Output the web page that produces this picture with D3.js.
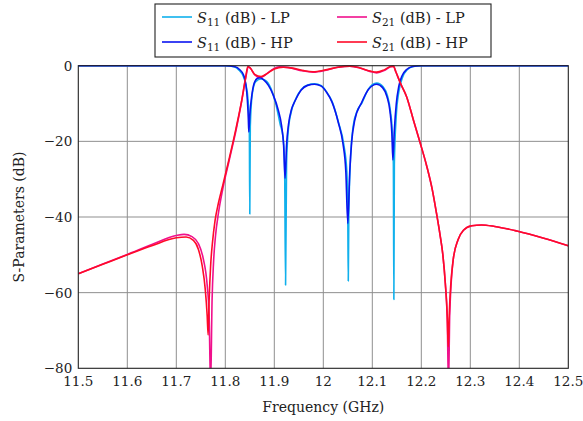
<!DOCTYPE html>
<html>
<head>
<meta charset="utf-8">
<script src="https://cdn.jsdelivr.net/npm/d3@7"></script>
<style>
  body { margin: 0; background: #fff; }
</style>
</head>
<body>
<div id="chart"></div>
<script>
// tick values
var xTicks = [11.5, 11.6, 11.7, 11.8, 11.9, 12, 12.1, 12.2, 12.3, 12.4, 12.5];
var yTicks = [0, -20, -40, -60, -80];

// S11 - LP (frequency GHz, dB)
var s11lp = [
  [11.5, 0], [11.80, 0], [11.818, -0.3], [11.828, -1.2], [11.836, -2.6], [11.842, -5],
  [11.846, -8.5], [11.849, -16], [11.850, -39.2], [11.851, -16], [11.855, -7.5],
  [11.862, -4.2], [11.873, -3.5], [11.882, -3.9], [11.893, -6], [11.903, -10],
  [11.912, -15.5], [11.918, -19], [11.921, -26], [11.923, -58], [11.925, -26],
  [11.928, -18], [11.934, -12.5], [11.942, -9.3], [11.955, -6.3], [11.968, -5.1],
  [11.982, -4.8], [11.996, -5.3], [12.006, -6.8], [12.018, -9.5], [12.031, -15],
  [12.042, -21], [12.048, -28], [12.050, -40], [12.051, -56.9], [12.052, -40],
  [12.055, -26], [12.061, -16], [12.069, -12], [12.079, -9.8], [12.092, -6.2],
  [12.109, -4.6], [12.122, -5.6], [12.131, -8], [12.137, -12], [12.141, -18],
  [12.143, -26], [12.144, -61.8], [12.145, -26], [12.149, -13], [12.154, -7],
  [12.162, -3], [12.172, -1], [12.184, -0.2], [12.2, 0], [12.5, 0]
];

// S21 - LP
var s21lp = [
  [11.5, -55], [11.55, -52.4], [11.6, -49.9], [11.65, -47.3], [11.7, -44.9],
  [11.716, -44.6], [11.732, -45.2], [11.745, -47], [11.755, -51], [11.763, -58],
  [11.767, -66], [11.770, -85], [11.773, -62], [11.776, -52], [11.780, -45],
  [11.786, -39], [11.795, -32.5], [11.808, -25], [11.822, -17], [11.834, -9],
  [11.842, -3], [11.847, -0.3], [11.852, -0.8], [11.86, -2.4], [11.871, -3.2],
  [11.882, -2.4], [11.895, -1.1], [11.91, -0.3], [11.93, -0.5], [11.955, -1.3],
  [11.979, -1.7], [12.005, -1.2], [12.03, -0.4], [12.054, -0.1], [12.075, -0.6],
  [12.095, -1.5], [12.109, -1.9], [12.124, -1.3], [12.137, -0.3], [12.143, -0.1],
  [12.148, -1.6], [12.158, -4.8], [12.17, -8.2], [12.184, -14.4], [12.197, -20.1],
  [12.211, -26.5], [12.222, -32.5], [12.231, -39], [12.238, -44.5], [12.244, -50],
  [12.249, -57.5], [12.253, -67], [12.2555, -85], [12.258, -66], [12.265, -51.4],
  [12.275, -46], [12.286, -43.5], [12.303, -42.3], [12.323, -42.1], [12.35, -42.5],
  [12.395, -43.7], [12.45, -45.6], [12.5, -47.6]
];

// S11 - HP
var s11hp = [
  [11.5, 0], [11.80, 0], [11.82, -0.3], [11.829, -1], [11.837, -2.4], [11.842, -5],
  [11.845, -9], [11.847, -14], [11.848, -17.5], [11.850, -13], [11.854, -8],
  [11.859, -4.6], [11.865, -3.4], [11.871, -3.2], [11.879, -3.8], [11.888, -5.2],
  [11.898, -7.8], [11.908, -11.7], [11.915, -16], [11.919, -21], [11.922, -29.8],
  [11.925, -21], [11.929, -15.5], [11.935, -11.6], [11.942, -9.4], [11.955, -6.4],
  [11.968, -5.2], [11.982, -4.9], [11.996, -5.4], [12.006, -6.9], [12.018, -9.7],
  [12.031, -15.2], [12.040, -20.5], [12.046, -28], [12.050, -41.7], [12.054, -28],
  [12.058, -20], [12.064, -14.5], [12.078, -9.8], [12.092, -6.3], [12.109, -4.9],
  [12.121, -5.8], [12.13, -8.2], [12.136, -12], [12.140, -18], [12.142, -24.9],
  [12.145, -17], [12.149, -10], [12.154, -5.5], [12.161, -2.6], [12.17, -1],
  [12.182, -0.2], [12.2, 0], [12.5, 0]
];

// S21 - HP
var s21hp = [
  [11.5, -55], [11.55, -52.5], [11.6, -50], [11.65, -47.6], [11.7, -45.5],
  [11.72, -45.3], [11.735, -46.2], [11.745, -48.5], [11.753, -53], [11.759, -59],
  [11.763, -66], [11.765, -71.2], [11.767, -62], [11.770, -53], [11.774, -46.5],
  [11.779, -41], [11.786, -36.3], [11.795, -31.5], [11.808, -24.5], [11.822, -16.5],
  [11.833, -9.5], [11.841, -3.5], [11.846, -0.2], [11.851, -0.6], [11.86, -2.3],
  [11.873, -2.9], [11.885, -2.1], [11.9, -0.9], [11.918, -0.4], [11.94, -0.7],
  [11.96, -1.3], [11.979, -1.6], [12.005, -1.1], [12.03, -0.4], [12.054, -0.1],
  [12.075, -0.6], [12.095, -1.4], [12.109, -1.7], [12.124, -1.1], [12.137, -0.2],
  [12.143, -0.1], [12.148, -1.6], [12.158, -4.8], [12.17, -8.2], [12.184, -14.4],
  [12.197, -20.1], [12.211, -26.5], [12.222, -32.5], [12.231, -39], [12.238, -44.5],
  [12.244, -50], [12.249, -57.5], [12.253, -66.5], [12.255, -74.3], [12.257, -66],
  [12.265, -51.4], [12.275, -46], [12.286, -43.5], [12.303, -42.3], [12.323, -42.1],
  [12.35, -42.5], [12.395, -43.7], [12.45, -45.6], [12.5, -47.6]
];

var series = [
  { name: "LP", sub: "11", data: s11lp, color: "#10b0ec" },
  { name: "LP", sub: "21", data: s21lp, color: "#f0108c" },
  { name: "HP", sub: "11", data: s11hp, color: "#0a14f0" },
  { name: "HP", sub: "21", data: s21hp, color: "#ff0a28" }
];

function drawChart() {
  var W = 583, H = 421;
  var pl = 78.3, pr = 568.3, pt = 65.7, pb = 368.3;
  var font = "'DejaVu Serif', serif";

  var svg = d3.select("#chart").append("svg")
    .attr("width", W).attr("height", H)
    .attr("font-family", font);

  var x = d3.scaleLinear().domain([11.5, 12.5]).range([pl, pr]);
  var y = d3.scaleLinear().domain([-80, 0]).range([pb, pt]);

  // grid
  svg.append("g").selectAll("line").data(xTicks.slice(1, -1)).enter().append("line")
    .attr("x1", d => x(d)).attr("x2", d => x(d))
    .attr("y1", pt).attr("y2", pb)
    .attr("stroke", "#8f8f8f").attr("stroke-width", 1);
  svg.append("g").selectAll("line").data(yTicks.slice(1, -1)).enter().append("line")
    .attr("x1", pl).attr("x2", pr)
    .attr("y1", d => y(d)).attr("y2", d => y(d))
    .attr("stroke", "#8f8f8f").attr("stroke-width", 1);

  // clip
  svg.append("clipPath").attr("id", "clip").append("rect")
    .attr("x", pl).attr("y", pt - 2).attr("width", pr - pl).attr("height", pb - pt + 2);

  var line = d3.line()
    .x(d => x(d[0])).y(d => y(d[1]))
    .curve(d3.curveMonotoneX);

  svg.append("g").attr("clip-path", "url(#clip)")
    .selectAll("path").data(series).enter().append("path")
    .attr("d", d => line(d.data))
    .attr("fill", "none")
    .attr("stroke", d => d.color)
    .attr("stroke-width", 1.6)
    .attr("stroke-linejoin", "round");

  // axes frame
  svg.append("rect").attr("x", pl).attr("y", pt)
    .attr("width", pr - pl).attr("height", pb - pt)
    .attr("fill", "none").attr("stroke", "#222").attr("stroke-width", 1.1);

  // tick labels
  var minus = v => (v < 0 ? "\u2212" + Math.abs(v) : String(v));
  svg.append("g").selectAll("text").data(xTicks).enter().append("text")
    .attr("x", d => x(d)).attr("y", pb + 18)
    .attr("text-anchor", "middle").attr("font-size", 13.5).attr("fill", "#222")
    .text(d => d);
  svg.append("g").selectAll("text").data(yTicks).enter().append("text")
    .attr("x", pl - 6).attr("y", d => y(d) + 5)
    .attr("text-anchor", "end").attr("font-size", 13.5).attr("fill", "#222")
    .text(d => minus(d));

  // axis labels
  svg.append("text").attr("x", (pl + pr) / 2).attr("y", 412)
    .attr("text-anchor", "middle").attr("font-size", 14).attr("fill", "#222")
    .text("Frequency (GHz)");
  svg.append("text")
    .attr("transform", "translate(24," + ((pt + pb) / 2) + ") rotate(-90)")
    .attr("text-anchor", "middle").attr("font-size", 14).attr("fill", "#222")
    .text("S-Parameters (dB)");

  // legend
  var lg = svg.append("g");
  lg.append("rect").attr("x", 155).attr("y", 4).attr("width", 336).attr("height", 53)
    .attr("fill", "#fff").attr("stroke", "#222").attr("stroke-width", 1.1);
  var cols = [162, 337], rows = [17, 42];
  series.forEach(function (s, i) {
    var cx = cols[i % 2], cy = rows[Math.floor(i / 2)];
    lg.append("line").attr("x1", cx).attr("x2", cx + 30).attr("y1", cy).attr("y2", cy)
      .attr("stroke", s.color).attr("stroke-width", 1.6);
    var t = lg.append("text").attr("x", cx + 35).attr("y", cy + 6)
      .attr("font-size", 14.5).attr("fill", "#222");
    t.append("tspan").attr("font-style", "italic").text("S");
    t.append("tspan").attr("font-size", 10.5).attr("dy", 3).text(s.sub);
    t.append("tspan").attr("dy", -3).text(" (dB) - " + s.name);
  });
}

drawChart();
</script>
</body>
</html>
